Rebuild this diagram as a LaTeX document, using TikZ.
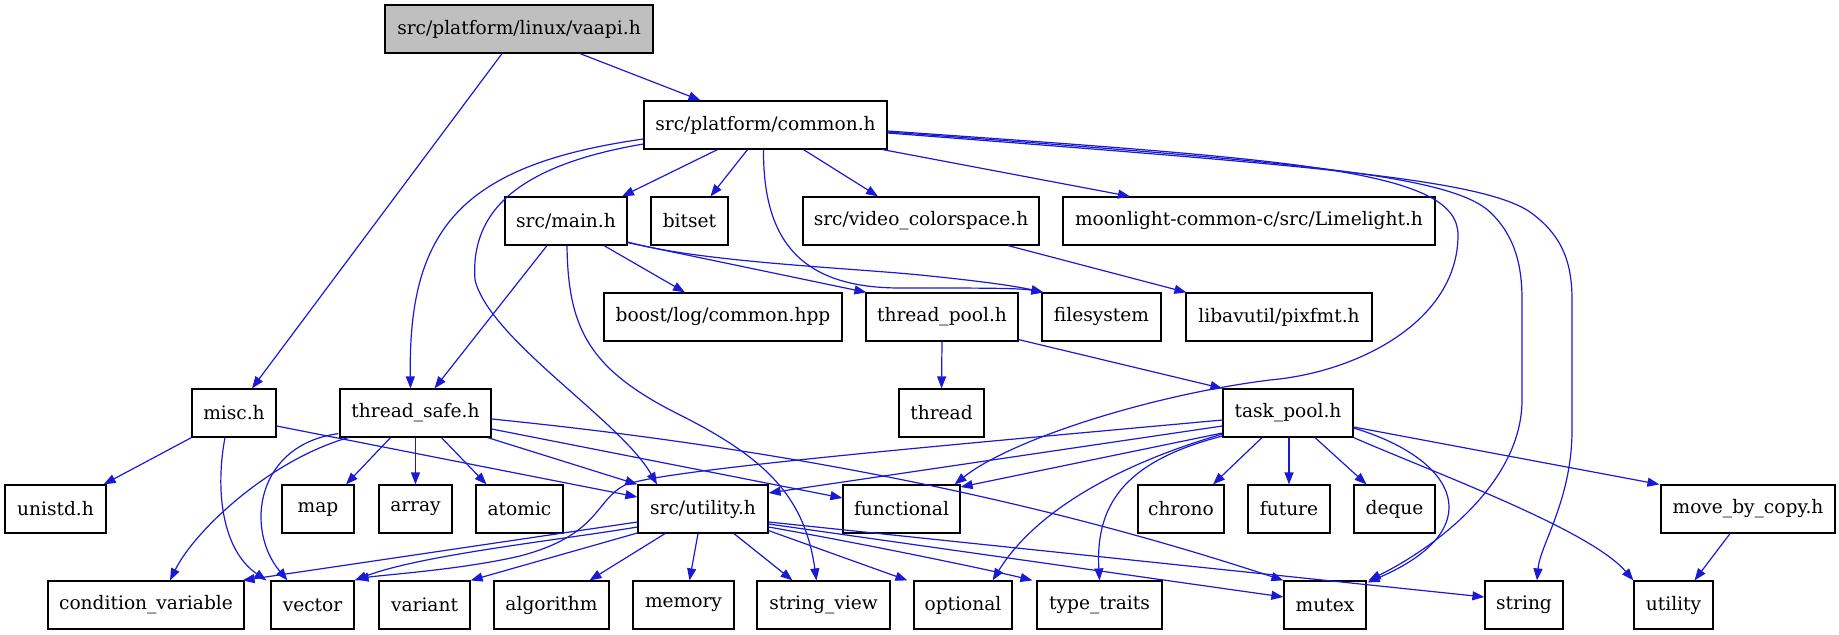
\documentclass[tikz,border=0pt]{standalone}
\usepackage{fontspec}
\setmainfont{DejaVu Serif}
\usetikzlibrary{arrows.meta,calc}
\definecolor{edgeblue}{RGB}{26,26,214}
\definecolor{rootgray}{RGB}{191,191,191}
\newcommand\gbox[6][]{\node[box,#1,minimum width={(#4-#3)*0.5pt}] (#2) at ({(#3+#4)/2},#5) {#6};}
\begin{document}
\begin{tikzpicture}[x=0.5pt,y=-0.5pt,
  box/.style={draw=black, line width=0.6pt, minimum height=24pt, inner sep=0pt, font=\fontsize{9.3}{11}\selectfont},
  edge/.style={draw=edgeblue, line width=0.6pt, -{Triangle[length=6pt,width=4.5pt]}}]
\useasboundingbox (0,0) rectangle (1839,635);
% row 0
\gbox[fill=rootgray]{vaapi}{385}{653}{29}{src/platform/linux/vaapi.h}
% row 1
\gbox{common}{644}{887}{125}{src/platform/common.h}
% row 2
\gbox{main}{505}{627}{221}{src/main.h}
\gbox{bitset}{651}{728}{221}{bitset}
\gbox{vcs}{803}{1039}{221}{src/video\_colorspace.h}
\gbox{moon}{1063}{1435}{221}{moonlight-common-c/src/Limelight.h}
% row 3
\gbox{boost}{604}{842}{317}{boost/log/common.hpp}
\gbox{tpool}{866}{1018}{317}{thread\_pool.h}
\gbox{fs}{1042}{1161}{317}{filesystem}
\gbox{pixfmt}{1186}{1372}{317}{libavutil/pixfmt.h}
% row 4
\gbox{misc}{192}{276}{413}{misc.h}
\gbox{tsafe}{340}{491}{413}{thread\_safe.h}
\gbox{thread}{899}{984}{413}{thread}
\gbox{taskpool}{1223}{1353}{413}{task\_pool.h}
% row 5
\gbox{unistd}{5}{106}{509}{unistd.h}
\gbox{map}{282}{354}{509}{map}
\gbox{array}{379}{452}{509}{array}
\gbox{atomic}{476}{563}{509}{atomic}
\gbox{util}{638}{768}{509}{src/utility.h}
\gbox{functional}{843}{960}{509}{functional}
\gbox{chrono}{1138}{1224}{509}{chrono}
\gbox{future}{1248}{1330}{509}{future}
\gbox{deque}{1354}{1435}{509}{deque}
\gbox{mbc}{1661}{1835}{509}{move\_by\_copy.h}
% row 6
\gbox{condvar}{48}{244}{605}{condition\_variable}
\gbox{vector}{271}{354}{605}{vector}
\gbox{variant}{379}{470}{605}{variant}
\gbox{algorithm}{494}{609}{605}{algorithm}
\gbox{memory}{633}{734}{605}{memory}
\gbox{strview}{757}{890}{605}{string\_view}
\gbox{optional}{914}{1012}{605}{optional}
\gbox{typetraits}{1037}{1162}{605}{type\_traits}
\gbox{mutex}{1284}{1366}{605}{mutex}
\gbox{string}{1485}{1563}{605}{string}
\gbox{utility}{1634}{1713}{605}{utility}

% vaapi
\draw[edge] ($(vaapi.south)+(-17,0)$) -- ($(misc.north)+(18,0)$);
\draw[edge] ($(vaapi.south)+(61,0)$) -- ($(common.north)+(-65,0)$);
% common
\draw[edge] ($(common.south)+(-48,0)$) -- ($(main.north)+(56,0)$);
\draw[edge] ($(common.south)+(-18,0)$) -- ($(bitset.north)+(21,0)$);
\draw[edge] ($(common.south)+(38,0)$) -- ($(vcs.north)+(-43,0)$);
\draw[edge] ($(common.south east)+(-5,0)$) -- ($(moon.north)+(-119,0)$);
\draw[edge] ($(common.west)+(0,14)$) .. controls (460,165) and (408,230) .. ($(tsafe.north)+(-5,0)$);
\draw[edge] ($(common.west)+(0,19)$) .. controls (520,165) and (470,210) .. (475,280) .. controls (490,340) and (620,420) .. ($(util.north)+(-46,0)$);
\draw[edge] ($(common.south)+(-2,0)$) .. controls (763,240) and (800,288) .. (900,288) .. controls (980,288) and (1020,288) .. ($(fs.north west)+(2,0)$);
\draw[edge] ($(common.east)+(0,6)$) .. controls (1300,160) and (1458,170) .. (1458,235) .. controls (1458,320) and (1360,372) .. (1270,380) .. controls (1150,395) and (1010,440) .. ($(functional.north east)+(-6,0)$);
\draw[edge] ($(common.east)+(0,7)$) .. controls (1300,162) and (1450,175) .. (1490,212) .. controls (1515,236) and (1522,265) .. (1522,300) -- (1522,400) .. controls (1522,480) and (1440,545) .. ($(mutex.north east)+(2,0)$);
\draw[edge] ($(common.east)+(0,8)$) .. controls (1300,165) and (1480,178) .. (1530,212) .. controls (1562,235) and (1572,262) .. (1572,300) -- (1572,430) .. controls (1572,500) and (1540,545) .. ($(string.north)+(13,0)$);
% main
\draw[edge] ($(main.south)+(38,0)$) -- ($(boost.north)+(-38,0)$);
\draw[edge] ($(main.south east)+(0,-3)$) -- ($(tpool.north west)+(1,0)$);
\draw[edge] ($(main.east)+(0,21)$) .. controls (700,262) and (850,268) .. (920,275) .. controls (980,281) and (1015,286) .. ($(fs.north west)+(2,0)$);
\draw[edge] ($(main.south)+(-19,0)$) -- ($(tsafe.north)+(19,0)$);
\draw[edge] ($(main.south)+(1,0)$) .. controls (568,330) and (590,370) .. (680,415) .. controls (770,460) and (805,500) .. ($(strview.north)+(-7,0)$);
% thread_pool, video_colorspace
\draw[edge] (tpool.south) -- (thread.north);
\draw[edge] ($(tpool.south east)+(0,-2)$) -- (taskpool.north west);
\draw[edge] ($(vcs.south)+(87,0)$) -- ($(pixfmt.north west)+(1,0)$);
% misc
\draw[edge] (misc.south west) -- ($(unistd.north east)+(-3,0)$);
\draw[edge] ($(misc.south)+(-9,0)$) .. controls (215,490) and (222,550) .. ($(vector.north west)+(-4,0)$);
\draw[edge] ($(misc.east)+(0,13)$) -- ($(util.west)+(0,-12)$);
% thread_safe
\draw[edge] ($(tsafe.south)+(-25,0)$) -- ($(map.north)+(28,0)$);
\draw[edge] (tsafe.south) -- (array.north);
\draw[edge] ($(tsafe.south)+(26,0)$) -- ($(atomic.north)+(-33,0)$);
\draw[edge] ($(tsafe.south east)+(-4,0)$) -- (util.north west);
\draw[edge] ($(tsafe.east)+(0,16)$) -- ($(functional.west)+(0,-11)$);
\draw[edge] ($(tsafe.east)+(0,6)$) .. controls (850,455) and (1100,520) .. (mutex.north west);
\draw[edge] ($(tsafe.south west)+(9,0)$) .. controls (270,460) and (195,530) .. ($(condvar.north)+(24,0)$);
\draw[edge] ($(tsafe.south west)+(-1,-4)$) .. controls (255,445) and (245,530) .. ($(vector.north)+(-25,0)$);
% utility.h
\draw[edge] ($(util.west)+(0,13)$) -- ($(condvar.north east)+(-2,0)$);
\draw[edge] ($(util.west)+(0,18)$) .. controls (560,540) and (420,555) .. (vector.north east);
\draw[edge] ($(util.west)+(0,24)$) -- (variant.north east);
\draw[edge] ($(util.south)+(-38,0)$) -- ($(algorithm.north)+(38,0)$);
\draw[edge] ($(util.south)+(-5,0)$) -- ($(memory.north)+(6,0)$);
\draw[edge] ($(util.south)+(31,0)$) -- ($(strview.north)+(-31,0)$);
\draw[edge] ($(util.south east)+(0,-3)$) -- ($(optional.north west)+(-6,0)$);
\draw[edge] ($(util.east)+(0,18)$) .. controls (870,545) and (990,570) .. ($(typetraits.north west)+(-4,0)$);
\draw[edge] ($(util.east)+(0,15)$) -- ($(mutex.west)+(0,-8)$);
\draw[edge] ($(util.east)+(0,13)$) -- ($(string.west)+(0,-8)$);
% task_pool
\draw[edge] ($(taskpool.south)+(-26,0)$) -- ($(chrono.north)+(32,0)$);
\draw[edge] ($(taskpool.south)+(1,0)$) -- (future.north);
\draw[edge] ($(taskpool.south)+(27,0)$) -- ($(deque.north)+(-28,0)$);
\draw[edge] ($(taskpool.east)+(0,14)$) -- ($(mbc.north west)+(-1,0)$);
\draw[edge] (taskpool.south east) .. controls (1440,475) and (1590,530) .. (utility.north west);
\draw[edge] ($(taskpool.east)+(0,15)$) .. controls (1460,460) and (1490,530) .. ($(mutex.north east)+(1,2)$);
\draw[edge] ($(taskpool.west)+(0,20)$) -- ($(functional.east)+(0,-22)$);
\draw[edge] ($(taskpool.west)+(0,21)$) .. controls (1100,470) and (1030,520) .. ($(optional.north east)+(-20,0)$);
\draw[edge] ($(taskpool.west)+(0,23)$) .. controls (1130,460) and (1095,500) .. (typetraits.north);
\draw[edge] ($(taskpool.west)+(0,13)$) -- ($(util.east)+(0,-16)$);
\draw[edge] ($(taskpool.west)+(0,7)$) .. controls (950,445) and (660,470) .. (625,485) .. controls (595,500) and (600,535) .. (520,556) .. controls (460,570) and (380,575) .. ($(vector.north east)+(2,-1)$);
% move_by_copy
\draw[edge] ($(mbc.south)+(-18,0)$) -- ($(utility.north)+(21,0)$);
\end{tikzpicture}
\end{document}
